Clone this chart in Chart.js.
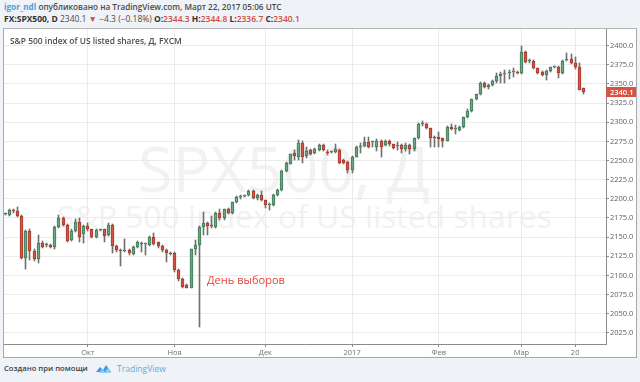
<!DOCTYPE html>
<html><head><meta charset="utf-8">
<script src="https://cdn.jsdelivr.net/npm/chart.js@4.4.0/dist/chart.umd.min.js"></script>
<style>
html,body{margin:0;padding:0}
body{width:640px;height:382px;background:#eff2f6;position:relative;overflow:hidden;font-family:'Open Sans',sans-serif}
.t{position:absolute;white-space:nowrap;line-height:1}
#h1{font-weight:600;color:#4a4a4a;font-size:9px}
#h1 .u{color:#4fa0d8;font-weight:700}
#h2{font-weight:600;color:#4a4a4a;font-size:9px}
#h2 b{font-weight:700;color:#333}
#h2 .r{color:#d24a3b}
#h2 .n{font-weight:400}
#box{position:absolute;left:3px;top:28px;width:632px;height:328px;border:1px solid #a9a9a9;border-top-color:#b5b5b5;background:#fff}
#title{font-weight:600;color:#4d4d4d;font-size:9px}
.wm{color:#f2f2f2;font-weight:400}
#ann{color:#e2463c;font-size:12px}
#f1{font-weight:600;color:#3e3e3e;font-size:9px}
#f2{color:#5ab0e3;font-size:9px}
#logo{position:absolute;left:96px;top:364px}
#c{position:absolute;left:4px;top:29px}
</style></head>
<body>
<div class="t" id="h1"><span class="u">igor_ndl</span> опубликовано на TradingView.com, Март 22, 2017 05:06 UTC</div>
<div class="t" id="h2"><b>FX:SPX500, D</b> <span class="n">2340.1</span> <span class="r">▼</span> <span class="n">−4.3 (−0.18%)</span> <b>O:</b><span class="r">2344.3</span> <b>H:</b><span class="r">2344.8</span> <b>L:</b><span class="r">2336.7</span> <b>C:</b><span class="r">2340.1</span></div>
<div id="box"></div>
<div class="t wm" id="wm1">SPX500, Д</div>
<div class="t wm" id="wm2">S&amp;P 500 index of US listed shares</div>
<canvas id="c" width="632" height="328"></canvas>
<div class="t" id="title">S&amp;P 500 index of US listed shares, Д, FXCM</div>
<div class="t" id="ann">День выборов</div>
<div class="t" id="f1">Создано при помощи</div>
<svg id="logo" width="15" height="10" viewBox="0 0 15 10"><path d="M0 8 L4 3 L7 6 L10 1 L15 8 Z" fill="#3b9be0"/><path d="M3 9 L6 5 L9 8 L12 4 L15 9 Z" fill="#8fcdf2"/></svg>
<div class="t" id="f2">TradingView</div>
<script>
// ---- data ----
const opens = [2180.5,2179,2185,2184.5,2177.5,2122.3,2158.4,2131.8,2121.4,2142.7,
2139.5,2139.7,2136.6,2162.7,2174.9,2165.8,2146.2,2158.4,2169.3,2153.6,
2164.5,2160.1,2150.6,2159.6,2160.1,2152.7,2165.8,2138.8,2132.3,2131.5,
2133.1,2127.5,2137.5,2142.7,2140.5,2139.7,2150.6,2143.2,2138.8,2133.1,
2129.7,2128.8,2107,2094.8,2087.4,2084,2134,2139.7,2163.6,2168,
2164.9,2163.7,2181,2174.5,2186.3,2181,2195.9,2202,2204,2205,
2210.2,2200.7,2204.6,2198.5,2191.5,2192,2205,2211.5,2236.4,2246,
2259.4,2254.2,2272.5,2256,2263.8,2259.4,2263.8,2270.3,2261.6,2261.4,
2261.6,2263.8,2250.7,2248.6,2237.7,2255,2268,2269,2274.7,2274.5,
2268.2,2276,2270.3,2276,2271.2,2269,2270.3,2264.7,2270.3,2264.7,
2279,2297.5,2297.8,2292.1,2281.2,2281.2,2279,2276,2294.3,2291.2,
2290,2293.4,2306.5,2315.2,2329.9,2336.5,2351.7,2345.6,2348.7,2354.3,
2360.4,2363.5,2364.2,2365,2365.5,2363.9,2391.8,2380.2,2380.5,2370.4,
2366.1,2361.7,2367.4,2372.3,2372.6,2363.9,2381,2382.2,2377,2371.7,
2344.3];
const highs = [2182,2186.5,2187,2189,2178.5,2159.5,2160,2135,2152.7,2144.5,
2142,2141,2164,2178.9,2176,2166.5,2160,2173.2,2174.5,2166,
2168,2161,2160,2161,2161,2168,2167,2139.5,2134,2147,
2134,2138,2145.3,2144,2142,2152,2154.9,2144,2140,2134,
2131,2130,2108,2096,2088.5,2135,2146.2,2164,2183.2,2170,
2177.6,2183,2186.3,2187,2187.5,2196.5,2204,2205,2205.5,2211,
2211,2206,2210,2199,2194,2206,2212.5,2237,2248,2259,
2263.8,2276.8,2276,2268,2265,2266,2271,2271,2263.8,2262.5,
2271.6,2265,2252,2249,2256,2269,2272.5,2280.3,2280.3,2276,
2278,2277,2277,2277,2272,2274.7,2271,2273.4,2271,2280,
2298.5,2302.1,2298.5,2293,2282,2286.9,2280,2295,2297.7,2296.4,
2294.5,2307,2317.6,2331,2337.5,2352.5,2353,2350,2355,2364.8,
2365.6,2368.3,2368.3,2370.4,2366.5,2399.6,2392.5,2382,2381.5,2371,
2367,2368,2372.5,2374,2373,2381.5,2390,2389,2385,2377.4,
2344.8];
const lows = [2178.5,2177,2182,2176.5,2121,2108,2120,2119,2115.7,2136,
2136.5,2135.5,2135,2162,2164.5,2144,2145,2157,2144,2141.9,
2158,2149,2149,2157.5,2144,2151,2128.8,2131,2112.3,2130,
2127,2126,2136,2131,2126.6,2139,2140,2136,2131,2118,
2126,2105,2093,2084,2083,2083,2126.6,2032,2152.7,2152.7,
2162,2162,2173,2173,2180,2180,2195,2200,2203,2204,
2199.5,2199,2197,2187.6,2185.5,2191,2204,2210,2235,2245,
2250.7,2250.7,2247,2253,2257,2258,2263,2262.5,2257.2,2260,
2260,2246,2245,2233.4,2233.4,2254,2259.4,2268,2267,2268,
2262,2254.2,2269,2269,2265,2263.8,2259.4,2263,2258.6,2263,
2278,2295.1,2291,2268,2268,2268,2268,2275,2290,2284.7,
2289,2292,2306,2314,2329,2335,2345,2344,2348,2350.8,
2350.8,2350.8,2356,2359.6,2363,2363,2378,2378,2369,2363,
2360,2355.2,2366,2371,2357.4,2363,2380,2376,2370,2341.5,
2336.7];
const closes = [2179.8,2185,2184.4,2177.5,2122.3,2158.4,2131.8,2121.4,2142.7,2137.5,
2139.8,2136.6,2162.7,2174.9,2165.8,2145.3,2158.4,2169.3,2150.6,2164.5,
2160.1,2150.6,2159.3,2160.1,2151.9,2165.8,2138.8,2133.1,2131.8,2132,
2128.8,2137.5,2143.2,2141,2141,2150.6,2141,2138.8,2133.1,2128.8,
2127.9,2107,2094.8,2085.3,2084,2134,2139.7,2163.6,2168,2164.9,
2164.5,2181,2174.5,2186.3,2181,2195.9,2202.8,2204.2,2204.3,2210.2,
2200.7,2204.6,2198.5,2192,2192,2205,2211.5,2236.4,2247,2258,
2256.4,2272.5,2254.2,2263,2258.5,2265,2270.3,2263.8,2259.4,2261.6,
2264.5,2247.3,2247.3,2237.7,2255,2268,2269.5,2274.7,2268.2,2274.8,
2276,2268.2,2276,2271.2,2266,2269.3,2264.7,2270.3,2264.7,2279,
2297.8,2297.8,2292.1,2279,2280,2277.7,2276,2294.3,2291.3,2291.3,
2293.4,2306.5,2315.2,2329.9,2336.5,2351.7,2346.5,2349,2354.3,2360.4,
2363,2363.9,2364.8,2365.2,2364.8,2391.8,2379.1,2380.5,2370.4,2364.8,
2361.7,2367.4,2371.7,2372.6,2363.9,2380.5,2381.3,2377,2371.7,2342.2,
2340.1];
const tickIdx = [21,42,64,85,106,126,139];
const tickLabels = ['Окт','Ноя','Дек','2017','Фев','Мар','20'];
const priceTicks = [2025,2050,2075,2100,2125,2150,2175,2200,2225,2250,2275,2300,2325,2350,2375,2400];

// ---- text placement ----
function place(id, left, width, cy){
  const el=document.getElementById(id);
  el.style.left=left+'px';
  const fs=parseFloat(getComputedStyle(el).fontSize);
  const w=el.getBoundingClientRect().width;
  el.style.fontSize=(fs*width/w)+'px';
  el.style.top=(cy-el.getBoundingClientRect().height/2)+'px';
}
place('h1',4,278,7);
place('h2',4,296,19);
place('title',10,172,41.5);
place('wm1',138,292,168);
place('wm2',57,495,216);
place('ann',207,78,280);
place('f1',4,84,369);
place('f2',117,49,369);

// ---- chart ----
const idx = opens.map((_,i)=>i+1);
const up = opens.map((o,i)=>closes[i]>=o);
const XMIN = 1 - 1.2/4.13, XMAX = XMIN + 602/4.13;
const YMIN = 2010.4, YMAX = 2421.8;

const crisp = {id:'crisp', afterDatasetsUpdate(chart){
  chart.data.datasets.forEach((ds,di)=>{
    chart.getDatasetMeta(di).data.forEach(el=>{
      el.x = Math.round(el.x-0.5)+0.5;
      let a=Math.round(el.y), b=Math.round(el.base);
      if(a===b) b=a+1;
      el.y=a; el.base=b;
    });
  });
}};
const tag = {id:'tag', afterDraw(chart){
  const c=chart.ctx, ca=chart.chartArea, v=closes[closes.length-1];
  const y=Math.round(chart.scales.y.getPixelForValue(v));
  c.save();
  c.fillStyle='#d75442'; c.fillRect(ca.right,y-5,30,10);
  c.fillStyle='#fff'; c.font='600 7.5px "Open Sans"'; c.textBaseline='middle'; c.textAlign='left';
  c.fillText(v.toFixed(1), ca.right+4, y+0.5);
  c.restore();
}};

new Chart(document.getElementById('c'), {
  type:'bar',
  data:{datasets:[
    {label:'body', data: idx.map((x,i)=>({x, y:[opens[i], closes[i]]})),
     backgroundColor: up.map(u=>u?'#6ba583':'#d75442'),
     borderColor: up.map(u=>u?'#3f7a58':'#a53a2c'),
     borderWidth:1, borderSkipped:false, barThickness:3, minBarLength:1, grouped:false, order:0},
    {label:'wick', data: idx.map((x,i)=>({x, y:[lows[i], highs[i]]})),
     backgroundColor:'#707070', borderWidth:0, barThickness:1, grouped:false, order:1}
  ]},
  options:{
    animation:false, responsive:false, maintainAspectRatio:false, devicePixelRatio:1,
    layout:{padding:0},
    plugins:{legend:{display:false}, tooltip:{enabled:false}},
    scales:{
      x:{type:'linear', position:'bottom', min:XMIN, max:XMAX, offset:false,
        afterBuildTicks:s=>{ s.ticks = tickIdx.map(v=>({value:v})); },
        afterFit:s=>{ s.height=13; s.paddingLeft=0; s.paddingRight=0; },
        ticks:{autoSkip:false, maxRotation:0, padding:1, color:'#707070',
          font:{family:'Open Sans', size:7.5},
          callback:v=>{ const k=tickIdx.indexOf(v); return k<0?'':tickLabels[k]; }},
        grid:{offset:false, color:'#ebebeb', tickColor:'#8a8a8a', tickLength:3},
        border:{color:'#8a8a8a'}},
      y:{type:'linear', position:'right', min:YMIN, max:YMAX,
        afterBuildTicks:s=>{ s.ticks = priceTicks.map(v=>({value:v})); },
        afterFit:s=>{ s.width=30; s.paddingTop=0; s.paddingBottom=0; },
        ticks:{padding:1, color:'#606060', font:{family:'Open Sans', size:7.5},
          callback:v=>Number(v).toFixed(1)},
        grid:{color:'#ebebeb', tickColor:'#8a8a8a', tickLength:3},
        border:{color:'#8a8a8a'}}
    }
  },
  plugins:[crisp, tag]
});
</script>
</body></html>
